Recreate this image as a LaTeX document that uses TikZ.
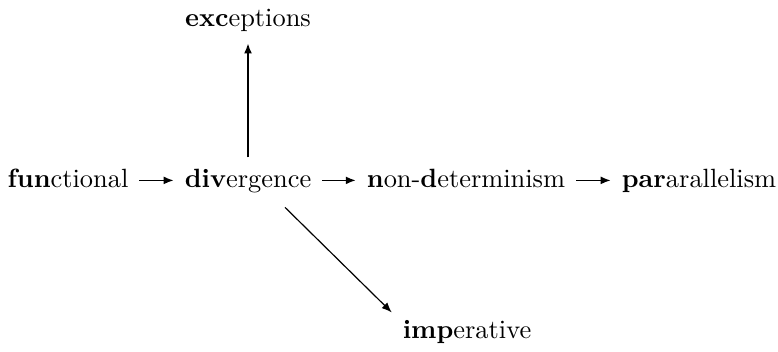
\documentclass[tikz,border=0pt]{standalone}
\usetikzlibrary{arrows.meta}
\begin{document}
\begin{tikzpicture}[x=0.3788pt,y=-0.3788pt,
  term/.style={anchor=base,inner sep=4pt,text height=7pt,text depth=2pt},
  arr/.style={-{Latex[length=3.8pt,width=3pt]},line width=0.6pt},
  darr/.style={-{Latex[length=3.8pt,width=3pt]},line width=0.45pt}]
\useasboundingbox (0,0) rectangle (778,351);
\node[term] (fun) at (68,187) {\textbf{fun}ctional};
\node[term] (div) at (248,187) {\textbf{div}ergence};
\node[term] (non) at (466,187) {\textbf{n}on-\textbf{d}eterminism};
\node[term] (par) at (699,187) {\textbf{par}arallelism};
\node[term] (exc) at (248,27) {\textbf{exc}eptions};
\node[term] (imp) at (467,338) {\textbf{imp}erative};
\draw[arr] (fun) -- (div);
\draw[arr] (div) -- (non);
\draw[arr] (non) -- (par);
\draw[arr] (div.north) -- (div.north |- exc.south);
\draw[darr] ([xshift=14pt,yshift=-1.5pt]div.south) -- ([yshift=-1.5pt]imp.north west);
\end{tikzpicture}
\end{document}
